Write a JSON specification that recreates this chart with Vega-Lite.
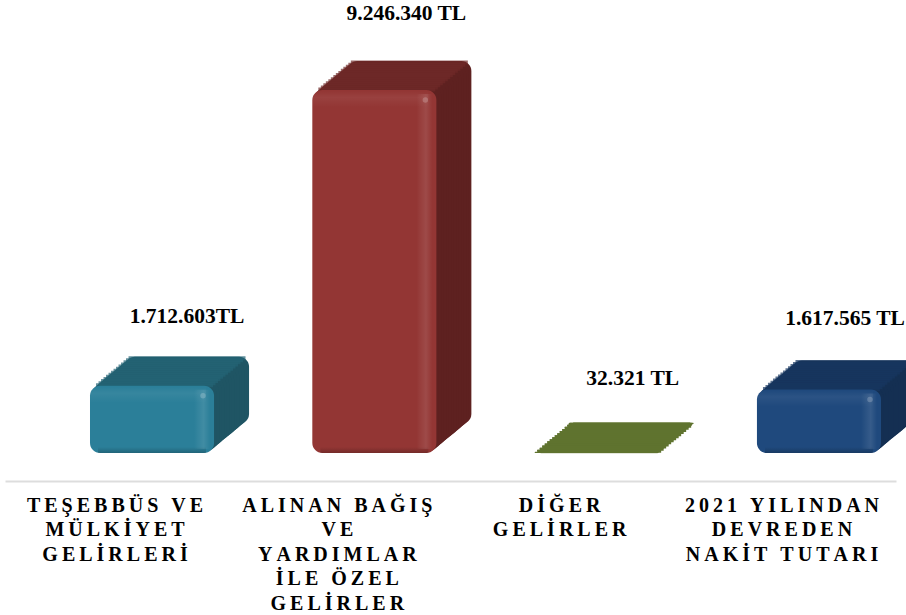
{"$schema":"https://vega.github.io/schema/vega-lite/v6.json","width":891,"height":453,"autosize":{"type":"none"},"padding":{"left":5,"right":10,"top":0,"bottom":162},"background":"white","config":{"view":{"stroke":null}},
"data":{"values":[
{"kalem":"TEŞEBBÜS VE|MÜLKİYET|GELİRLERİ","deger":1712603,"etiket":"1.712.603TL"},
{"kalem":"ALINAN BAĞIŞ|VE|YARDIMLAR|İLE ÖZEL|GELİRLER","deger":9246340,"etiket":"9.246.340 TL"},
{"kalem":"DİĞER|GELİRLER","deger":32321,"etiket":"32.321 TL"},
{"kalem":"2021 YILINDAN|DEVREDEN|NAKİT TUTARI","deger":1617565,"etiket":"1.617.565 TL"}]},
"encoding":{"x":{"field":"kalem","type":"nominal","sort":null,"title":null,"scale":{"paddingInner":0.442,"paddingOuter":0.2249,"align":0.85},"axis":{"offset":28,"ticks":false,"domainColor":"#dddddd","domainWidth":2,"labelAngle":0,"labelFont":"Liberation Serif","labelFontWeight":"bold","labelFontSize":20,"labelColor":"#000000","labelLineHeight":24.6,"labelPadding":14,"labelLimit":500,"labelOffset":-37,"labelOverlap":false,"labelExpr":"split(replace(datum.label,/(.)/g,'$1\u2009'),'|\u2009')"}},
"y":{"field":"deger","type":"quantitative","stack":null,"axis":null,"scale":{"domain":[0,11540000],"nice":false}}},
"layer":[
{"mark":{"type":"bar","cornerRadius":10,"xOffset":35,"yOffset":-29,"y2Offset":-29},"encoding":{"y2":{"datum":0},"fill":{"field":"kalem","legend":null,"scale":{"range":["#142f52","#5e2120","#5f732f","#1f5564"]}}}},
{"mark":{"type":"bar","cornerRadius":10,"xOffset":32.5,"yOffset":-26.9,"y2Offset":-26.9},"encoding":{"y2":{"datum":0},"fill":{"field":"kalem","legend":null}}},
{"mark":{"type":"bar","cornerRadius":10,"xOffset":30,"yOffset":-24.9,"y2Offset":-24.9},"encoding":{"y2":{"datum":0},"fill":{"field":"kalem","legend":null}}},
{"mark":{"type":"bar","cornerRadius":10,"xOffset":27.5,"yOffset":-22.8,"y2Offset":-22.8},"encoding":{"y2":{"datum":0},"fill":{"field":"kalem","legend":null}}},
{"mark":{"type":"bar","cornerRadius":10,"xOffset":25,"yOffset":-20.7,"y2Offset":-20.7},"encoding":{"y2":{"datum":0},"fill":{"field":"kalem","legend":null}}},
{"mark":{"type":"bar","cornerRadius":10,"xOffset":22.5,"yOffset":-18.6,"y2Offset":-18.6},"encoding":{"y2":{"datum":0},"fill":{"field":"kalem","legend":null}}},
{"mark":{"type":"bar","cornerRadius":10,"xOffset":20,"yOffset":-16.6,"y2Offset":-16.6},"encoding":{"y2":{"datum":0},"fill":{"field":"kalem","legend":null}}},
{"mark":{"type":"bar","cornerRadius":10,"xOffset":17.5,"yOffset":-14.5,"y2Offset":-14.5},"encoding":{"y2":{"datum":0},"fill":{"field":"kalem","legend":null}}},
{"mark":{"type":"bar","cornerRadius":10,"xOffset":15,"yOffset":-12.4,"y2Offset":-12.4},"encoding":{"y2":{"datum":0},"fill":{"field":"kalem","legend":null}}},
{"mark":{"type":"bar","cornerRadius":10,"xOffset":12.5,"yOffset":-10.4,"y2Offset":-10.4},"encoding":{"y2":{"datum":0},"fill":{"field":"kalem","legend":null}}},
{"mark":{"type":"bar","cornerRadius":10,"xOffset":10,"yOffset":-8.3,"y2Offset":-8.3},"encoding":{"y2":{"datum":0},"fill":{"field":"kalem","legend":null}}},
{"mark":{"type":"bar","cornerRadius":10,"xOffset":7.5,"yOffset":-6.2,"y2Offset":-6.2},"encoding":{"y2":{"datum":0},"fill":{"field":"kalem","legend":null}}},
{"mark":{"type":"bar","cornerRadius":10,"xOffset":5,"yOffset":-4.1,"y2Offset":-4.1},"encoding":{"y2":{"datum":0},"fill":{"field":"kalem","legend":null}}},
{"mark":{"type":"bar","cornerRadius":10,"xOffset":2.5,"yOffset":-2.1,"y2Offset":-2.1},"encoding":{"y2":{"datum":0},"fill":{"field":"kalem","legend":null}}},
{"mark":{"type":"tick","filled":false,"thickness":1,"strokeWidth":3,"size":114,"xOffset":35,"yOffset":-27.5},"encoding":{"stroke":{"field":"kalem","legend":null,"scale":{"range":["#17365f","#6f2a28","#5f732f","#236475"]}}}},
{"mark":{"type":"tick","filled":false,"thickness":1,"strokeWidth":3,"size":114,"xOffset":32.5,"yOffset":-25.4},"encoding":{"stroke":{"field":"kalem","legend":null}}},
{"mark":{"type":"tick","filled":false,"thickness":1,"strokeWidth":3,"size":114,"xOffset":30,"yOffset":-23.4},"encoding":{"stroke":{"field":"kalem","legend":null}}},
{"mark":{"type":"tick","filled":false,"thickness":1,"strokeWidth":3,"size":114,"xOffset":27.5,"yOffset":-21.3},"encoding":{"stroke":{"field":"kalem","legend":null}}},
{"mark":{"type":"tick","filled":false,"thickness":1,"strokeWidth":3,"size":114,"xOffset":25,"yOffset":-19.2},"encoding":{"stroke":{"field":"kalem","legend":null}}},
{"mark":{"type":"tick","filled":false,"thickness":1,"strokeWidth":3,"size":114,"xOffset":22.5,"yOffset":-17.1},"encoding":{"stroke":{"field":"kalem","legend":null}}},
{"mark":{"type":"tick","filled":false,"thickness":1,"strokeWidth":3,"size":114,"xOffset":20,"yOffset":-15.1},"encoding":{"stroke":{"field":"kalem","legend":null}}},
{"mark":{"type":"tick","filled":false,"thickness":1,"strokeWidth":3,"size":114,"xOffset":17.5,"yOffset":-13},"encoding":{"stroke":{"field":"kalem","legend":null}}},
{"mark":{"type":"tick","filled":false,"thickness":1,"strokeWidth":3,"size":114,"xOffset":15,"yOffset":-10.9},"encoding":{"stroke":{"field":"kalem","legend":null}}},
{"mark":{"type":"tick","filled":false,"thickness":1,"strokeWidth":3,"size":114,"xOffset":12.5,"yOffset":-8.9},"encoding":{"stroke":{"field":"kalem","legend":null}}},
{"mark":{"type":"tick","filled":false,"thickness":1,"strokeWidth":3,"size":114,"xOffset":10,"yOffset":-6.8},"encoding":{"stroke":{"field":"kalem","legend":null}}},
{"mark":{"type":"tick","filled":false,"thickness":1,"strokeWidth":3,"size":114,"xOffset":7.5,"yOffset":-4.7},"encoding":{"stroke":{"field":"kalem","legend":null}}},
{"mark":{"type":"tick","filled":false,"thickness":1,"strokeWidth":3,"size":114,"xOffset":5,"yOffset":-2.6},"encoding":{"stroke":{"field":"kalem","legend":null}}},
{"mark":{"type":"tick","filled":false,"thickness":1,"strokeWidth":3,"size":114,"xOffset":2.5,"yOffset":-0.6},"encoding":{"stroke":{"field":"kalem","legend":null}}},
{"transform":[{"filter":"datum.deger<100000"}],"mark":{"type":"tick","color":"#5f732f","opacity":1,"thickness":3,"size":124,"cornerRadius":1.5,"xOffset":33.8,"yOffset":-27.5}},
{"transform":[{"filter":"datum.deger<100000"}],"mark":{"type":"tick","color":"#5f732f","opacity":1,"thickness":3,"size":124,"xOffset":32.5,"yOffset":-25.4}},
{"transform":[{"filter":"datum.deger<100000"}],"mark":{"type":"tick","color":"#5f732f","opacity":1,"thickness":3,"size":124,"xOffset":30,"yOffset":-23.4}},
{"transform":[{"filter":"datum.deger<100000"}],"mark":{"type":"tick","color":"#5f732f","opacity":1,"thickness":3,"size":124,"xOffset":27.5,"yOffset":-21.3}},
{"transform":[{"filter":"datum.deger<100000"}],"mark":{"type":"tick","color":"#5f732f","opacity":1,"thickness":3,"size":124,"xOffset":25,"yOffset":-19.2}},
{"transform":[{"filter":"datum.deger<100000"}],"mark":{"type":"tick","color":"#5f732f","opacity":1,"thickness":3,"size":124,"xOffset":22.5,"yOffset":-17.1}},
{"transform":[{"filter":"datum.deger<100000"}],"mark":{"type":"tick","color":"#5f732f","opacity":1,"thickness":3,"size":124,"xOffset":20,"yOffset":-15.1}},
{"transform":[{"filter":"datum.deger<100000"}],"mark":{"type":"tick","color":"#5f732f","opacity":1,"thickness":3,"size":124,"xOffset":17.5,"yOffset":-13}},
{"transform":[{"filter":"datum.deger<100000"}],"mark":{"type":"tick","color":"#5f732f","opacity":1,"thickness":3,"size":124,"xOffset":15,"yOffset":-10.9}},
{"transform":[{"filter":"datum.deger<100000"}],"mark":{"type":"tick","color":"#5f732f","opacity":1,"thickness":3,"size":124,"xOffset":12.5,"yOffset":-8.9}},
{"transform":[{"filter":"datum.deger<100000"}],"mark":{"type":"tick","color":"#5f732f","opacity":1,"thickness":3,"size":124,"xOffset":10,"yOffset":-6.8}},
{"transform":[{"filter":"datum.deger<100000"}],"mark":{"type":"tick","color":"#5f732f","opacity":1,"thickness":3,"size":124,"xOffset":7.5,"yOffset":-4.7}},
{"transform":[{"filter":"datum.deger<100000"}],"mark":{"type":"tick","color":"#5f732f","opacity":1,"thickness":3,"size":124,"xOffset":5,"yOffset":-2.6}},
{"transform":[{"filter":"datum.deger<100000"}],"mark":{"type":"tick","color":"#5f732f","opacity":1,"thickness":3,"size":124,"xOffset":2.5,"yOffset":-0.6}},
{"mark":{"type":"bar","cornerRadius":10},"encoding":{"color":{"field":"kalem","legend":null,"scale":{"range":["#1f497d","#933634","#5f732f","#2b7f99"]}}}},
{"transform":[{"filter":"datum.deger>100000"}],"mark":{"type":"bar","width":16,"xOffset":50,"yOffset":4,"y2Offset":-4,"fill":{"gradient":"linear","x1":0,"y1":0,"x2":1,"y2":0,"stops":[{"offset":0,"color":"rgba(255,255,255,0)"},{"offset":0.6,"color":"rgba(255,255,255,0.1)"},{"offset":1,"color":"rgba(255,255,255,0)"}]}},"encoding":{"y2":{"datum":0}}},
{"transform":[{"filter":"datum.deger>100000"}],"mark":{"type":"tick","size":116,"thickness":16,"xOffset":-4,"yOffset":9,"fill":{"gradient":"linear","x1":0,"y1":0,"x2":0,"y2":1,"stops":[{"offset":0,"color":"rgba(255,255,255,0)"},{"offset":0.4,"color":"rgba(255,255,255,0.08)"},{"offset":1,"color":"rgba(255,255,255,0)"}]}}},
{"transform":[{"filter":"datum.deger>100000"}],"mark":{"type":"tick","size":108,"thickness":6,"yOffset":-3,"fill":{"gradient":"linear","x1":0,"y1":0,"x2":0,"y2":1,"stops":[{"offset":0,"color":"rgba(0,0,0,0)"},{"offset":1,"color":"rgba(0,0,0,0.3)"}]}},"encoding":{"y":{"datum":0}}},
{"transform":[{"filter":"datum.deger>100000"}],"mark":{"type":"point","filled":true,"size":30,"xOffset":51,"yOffset":10,"color":"#ffffff","opacity":0.2}},
{"transform":[{"filter":"datum.deger==1712603"}],"mark":{"type":"text","font":"Liberation Serif","fontWeight":"bold","fontSize":21.5,"color":"#000000","dx":35,"dy":-69},"encoding":{"text":{"field":"etiket"}}},
{"transform":[{"filter":"datum.deger==9246340"}],"mark":{"type":"text","font":"Liberation Serif","fontWeight":"bold","fontSize":21.5,"color":"#000000","dx":32,"dy":-76},"encoding":{"text":{"field":"etiket"}}},
{"transform":[{"filter":"datum.deger==32321"}],"mark":{"type":"text","font":"Liberation Serif","fontWeight":"bold","fontSize":21.5,"color":"#000000","dx":36,"dy":-73},"encoding":{"text":{"field":"etiket"}}},
{"transform":[{"filter":"datum.deger==1617565"}],"mark":{"type":"text","font":"Liberation Serif","fontWeight":"bold","fontSize":21.5,"color":"#000000","dx":26,"dy":-71},"encoding":{"text":{"field":"etiket"}}}
]}
